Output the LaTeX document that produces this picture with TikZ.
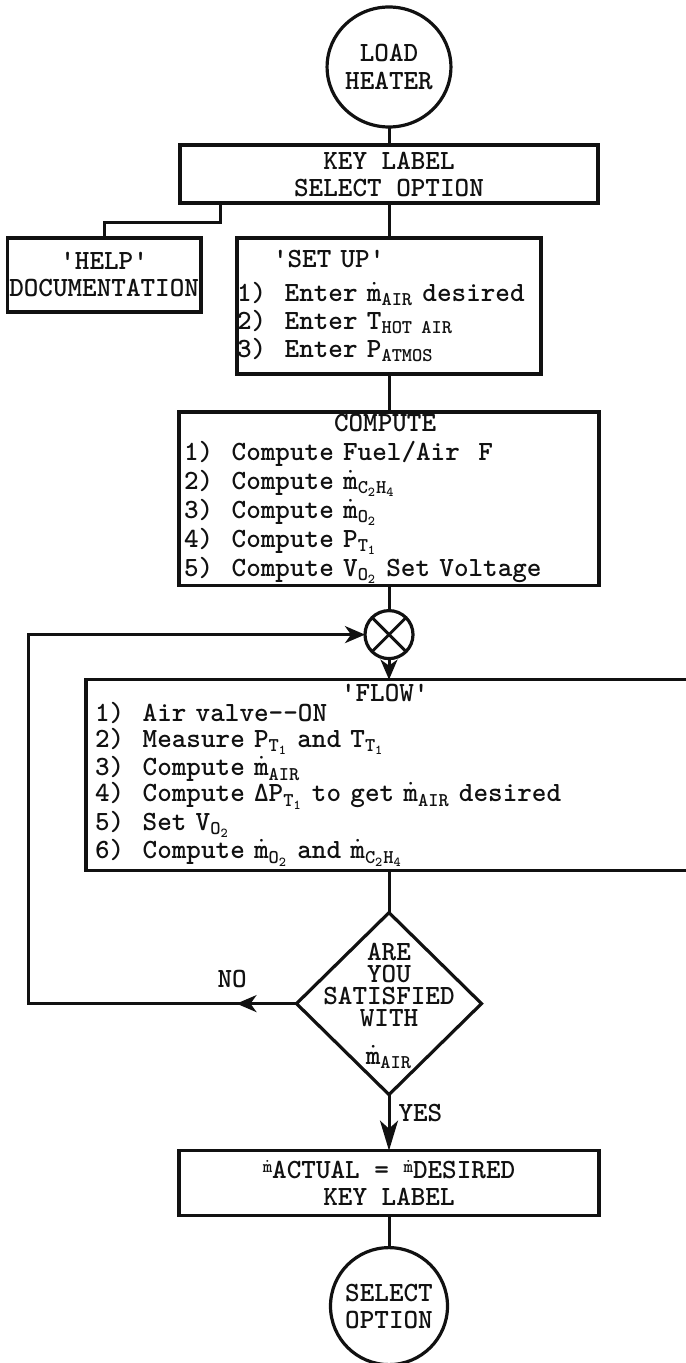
\documentclass[tikz,border=0pt]{standalone}
\usepackage{fontspec}
\usepackage{amsmath}
\usepackage{tikz}
\usetikzlibrary{arrows.meta,positioning,shapes.geometric,decorations.markings}
\definecolor{Ink}{HTML}{111111}
\newcommand{\md}[1]{$\dot{\text{m}}_{\text{#1}}$}
\newcommand{\sbs}[2]{#1$_{\text{#2}}$}
\newcommand{\msmall}{\raisebox{3pt}{\fontsize{9}{9}\selectfont$\dot{\text{m}}$}}
\tikzset{
  box/.style={draw=Ink,line width=1.6pt,outer sep=0pt,inner sep=1pt,text=Ink,
    font=\ttfamily\bfseries\fontsize{13.9}{13.5}\selectfont},
  listbox/.style={box,align=left,inner xsep=2.5pt},
  terminal/.style={box,ellipse,align=center,inner sep=0pt},
  decision/.style={box,diamond,inner sep=0pt},
  mixer/.style={box,circle,inner sep=0pt,minimum size=24pt},
  line/.style={draw=Ink,line width=1.5pt},
  arrow/.style={line,-{Stealth[length=10pt,width=8.5pt,inset=3pt]}},
  yesarrow/.style={line,-{Stealth[length=15pt,width=9pt,inset=4pt]}},
  tag/.style={text=Ink,inner sep=1pt,font=\ttfamily\bfseries\fontsize{13.9}{11}\selectfont}
}
\begin{document}
\begin{tikzpicture}[x=0.5pt,y=-0.5pt]
  \useasboundingbox (0,0) rectangle (685,1363);
  \node[terminal,minimum width=52pt,minimum height=60pt] (load) at (389,67) {LOAD\\HEATER};
  \node[box,align=center,below=9pt of load,minimum width=209pt,minimum height=29pt] (keysel) {KEY LABEL\\SELECT OPTION};
  \node[listbox,below=17.5pt of keysel,inner xsep=0pt,text width=152pt,minimum height=68pt,
    font=\ttfamily\bfseries\fontsize{13.9}{14}\selectfont] (setup)
    {\hspace*{18pt}'SET~UP'\\[3pt]
     1)~~Enter~\md{AIR}~desired\\
     2)~~Enter~\sbs{T}{HOT AIR}\\
     3)~~Enter~\sbs{P}{ATMOS}};
  \node[box,align=center,left=18pt of setup.north west,anchor=north east,minimum width=96pt,minimum height=37pt] (help) {'HELP'\\DOCUMENTATION};
  \node[listbox,below=19pt of setup,text width=205pt,minimum height=85.5pt,
    font=\ttfamily\bfseries\fontsize{13.9}{14.5}\selectfont] (comp)
    {\hspace*{75pt}COMPUTE\\
     1)~~Compute~Fuel/Air~~F\\
     2)~~Compute~\md{C$_{\text{2}}$H$_{\text{4}}$}\\
     3)~~Compute~\md{O$_{\text{2}}$}\\
     4)~~Compute~\sbs{P}{T$_{\text{1}}$}\\
     5)~~Compute~\sbs{V}{O$_{\text{2}}$}~Set~Voltage};
  \node[mixer,below=12.5pt of comp] (mix) {};
  \node[listbox,below=10.5pt of mix,text width=294pt,inner xsep=4.5pt,minimum height=95.5pt,
    font=\ttfamily\bfseries\fontsize{13.9}{13}\selectfont] (flow)
    {\hspace*{123pt}'FLOW'\\[-3pt]
     1)~~Air~valve-{}-ON\\
     2)~~Measure~\sbs{P}{T$_{\text{1}}$}~and~\sbs{T}{T$_{\text{1}}$}\\
     3)~~Compute~\md{AIR}\\
     4)~~Compute~Δ\sbs{P}{T$_{\text{1}}$}~to~get~\md{AIR}~desired\\
     5)~~Set~\sbs{V}{O$_{\text{2}}$}\\
     6)~~Compute~\md{O$_{\text{2}}$}~and~\md{C$_{\text{2}}$H$_{\text{4}}$}};
  \node[decision,below=21pt of flow,minimum width=92.5pt,minimum height=91pt] (sat) {};
  \node[tag,align=center] (sattext) at ([yshift=-1pt]sat) {ARE\\YOU\\SATISFIED\\WITH\\[8pt]\md{AIR}};
  \node[box,align=center,below=28pt of sat,minimum width=210pt,minimum height=32.5pt] (actual)
    {\msmall ACTUAL~=~\msmall DESIRED\\KEY~LABEL};
  \node[terminal,circle,below=16pt of actual,minimum size=58.5pt] (select) {SELECT\\OPTION};
  \coordinate (loop) at ([xshift=-134pt]sat.west);

  \draw[line] (load.south) -- (keysel.north);
  \draw[line] ([xshift=20pt]keysel.south west) -- ++(0pt,-10pt) -| (help.north);
  \draw[line] (keysel.south) -- (setup.north);
  \draw[line] (setup.south) -- (comp.north);
  \draw[line] (comp.south) -- (mix.north);
  \draw[line] (mix.north west) -- (mix.south east) (mix.north east) -- (mix.south west);
  \draw[arrow] (mix.south) -- (flow.north);
  \draw[line] (flow.south) -- (sat.north);
  \draw[arrow,postaction={decorate},decoration={markings,
      mark=at position 30pt with {\arrow{Stealth[length=10pt,width=8.5pt,inset=3pt]}}}]
    (sat.west) -- node[tag,above=6pt,pos=0.24] (no) {NO} (loop) |- (mix.west);
  \draw[yesarrow] (sat.south) -- node[tag,right=3pt,pos=0.32] (yes) {YES} (actual.north);
  \draw[line] (actual.south) -- (select.north);
\end{tikzpicture}
\end{document}
